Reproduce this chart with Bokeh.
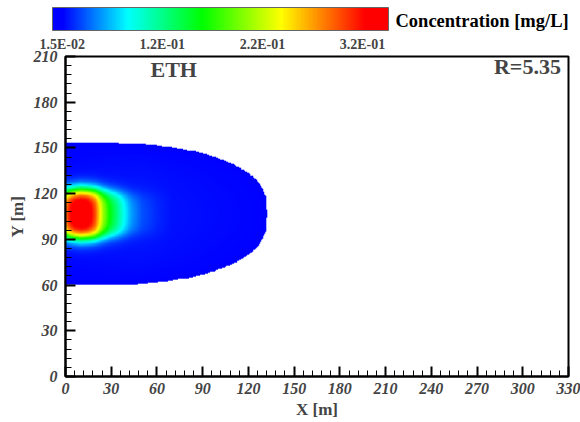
import numpy as np
from bokeh.plotting import figure
from bokeh.models import ColorBar, LinearColorMapper, FixedTicker, Label, SingleIntervalTicker
from bokeh.embed import file_html
from bokeh.resources import INLINE

# ---------------- colour scale ----------------
cbar_low = 0.0053
cbar_high = 0.341
cbar_ticks = [0.015, 0.115, 0.215, 0.315]
cbar_labels = ["1.5E-02", "1.2E-01", "2.2E-01", "3.2E-01"]
cbar_title = "Concentration [mg/L]"
c_cutoff = 0.015
# colour stops in concentration units
stop_c = [0.0053, 0.015, 0.080, 0.155, 0.234, 0.318, 0.341]
stop_r = [0, 0, 0, 0, 255, 255, 255]
stop_g = [0, 0, 255, 255, 255, 0, 0]
stop_b = [255, 255, 255, 0, 0, 0, 0]

# ---------------- plume ----------------
plume_yc = 106.7
# source core concentration along plume axis
core_x = [0, 3, 6, 10, 14, 17, 20, 22, 25, 29, 34, 38, 43, 50, 60, 70]
core_c = [0.26, 0.30, 0.32, 0.325, 0.32, 0.30, 0.27, 0.225, 0.18, 0.135, 0.095, 0.065, 0.035, 0.015, 0.005, 0.0]
# lateral half-width of the core along plume axis
core_hw_x = [0, 10, 20, 30, 45]
core_hw = [14.5, 15.5, 15.0, 14.0, 13.0]
core_edge = 2.5
# low-level halo concentration along plume axis
halo_x = [0, 30, 50, 70, 100, 120, 132]
halo_c = [0.017, 0.020, 0.021, 0.019, 0.017, 0.016, 0.015]
# outline of the 0.015 mg/L plume: half-width vs x
boundary_x = [0, 20, 40, 60, 80, 90, 100, 110, 117, 122, 126, 129, 131, 132]
boundary_hw = [46.7, 46.7, 46.5, 45, 42, 40, 36.5, 32.5, 28.5, 25, 21, 16, 11, 0]

# ---------------- palette ----------------
t = np.linspace(cbar_low, cbar_high, 256)
pal_r = np.interp(t, stop_c, stop_r).astype(np.uint8)
pal_g = np.interp(t, stop_c, stop_g).astype(np.uint8)
pal_b = np.interp(t, stop_c, stop_b).astype(np.uint8)
palette = ["#%02x%02x%02x" % (r, g, b) for r, g, b in zip(pal_r, pal_g, pal_b)]

# ---------------- field ----------------
step = 0.5
x0, x1, y0, y1 = 0.0, 135.0, 55.0, 160.0
xs = np.arange(x0 + step / 2, x1, step)
ys = np.arange(y0 + step / 2, y1, step)
X, Y = np.meshgrid(xs, ys)
d = np.abs(Y - plume_yc)
hw = np.interp(X, boundary_x, boundary_hw)
chw = np.interp(X, core_hw_x, core_hw)
core = np.interp(X, core_x, core_c) / (1.0 + np.exp((d - chw) / core_edge))
hc = np.interp(X, halo_x, halo_c)
ratio = np.where(hw > 0, d / np.maximum(hw, 1e-6), 10.0)
halo = hc * (c_cutoff / hc) ** (ratio ** 2)
conc = core + halo
inside = (d <= hw) & (X <= boundary_x[-1])

img = np.zeros(X.shape, dtype=np.uint32)
view = img.view(dtype=np.uint8).reshape(X.shape + (4,))
view[..., 0] = np.interp(conc, stop_c, stop_r).astype(np.uint8)
view[..., 1] = np.interp(conc, stop_c, stop_g).astype(np.uint8)
view[..., 2] = np.interp(conc, stop_c, stop_b).astype(np.uint8)
view[..., 3] = np.where(inside, 255, 0)

FONT = "Liberation Serif"

# ---------------- main plot ----------------
p = figure(width=580, height=422, x_range=(0, 330), y_range=(0, 210),
           output_backend="svg", toolbar_location=None,
           min_border_left=65, min_border_right=12, min_border_top=56, min_border_bottom=46)
p.grid.visible = False
p.outline_line_color = "black"
p.outline_line_width = 2

p.image_rgba(image=[img], x=x0, y=y0, dw=x1 - x0, dh=y1 - y0)

for ax, lab in ((p.xaxis[0], "X [m]"), (p.yaxis[0], "Y [m]")):
    ax.ticker = SingleIntervalTicker(interval=30, num_minor_ticks=5)
    ax.axis_label = lab
    ax.axis_label_text_font = FONT
    ax.axis_label_text_font_style = "bold"
    ax.axis_label_text_font_size = "17px"
    ax.major_label_text_font = FONT
    ax.major_label_text_font_style = "bold italic"
    ax.major_label_text_font_size = "16px"
    ax.major_tick_in = 10
    ax.major_tick_out = 0
    ax.minor_tick_in = 6
    ax.minor_tick_out = 0
    ax.major_tick_line_width = 2
    ax.minor_tick_line_width = 1
    ax.axis_line_width = 2
p.xaxis.major_label_standoff = 6
p.xaxis.axis_label_standoff = 3
p.yaxis.major_label_standoff = 8
p.yaxis.axis_label_standoff = 4

# colour bar above the frame
mapper = LinearColorMapper(palette=palette, low=cbar_low, high=cbar_high)
cb = ColorBar(color_mapper=mapper, orientation="horizontal", width=336, height=23,
              location=(-13, 322), padding=0, margin=0,
              ticker=FixedTicker(ticks=cbar_ticks),
              major_label_overrides={v: s for v, s in zip(cbar_ticks, cbar_labels)},
              major_label_text_font=FONT, major_label_text_font_style="bold",
              major_label_text_font_size="14px", label_standoff=6,
              major_tick_line_color=None, minor_tick_line_color=None,
              bar_line_color="#666666", bar_line_width=1,
              background_fill_alpha=0, border_line_color=None)
p.add_layout(cb, "center")

# colour bar title, to the right of the bar (carried by an invisible bar)
cb_title = ColorBar(color_mapper=mapper, orientation="horizontal", width=170, height=1,
                    location=(330, 344), padding=0, margin=0,
                    ticker=FixedTicker(ticks=[]), scale_alpha=0,
                    major_tick_line_color=None, minor_tick_line_color=None,
                    major_label_text_alpha=0, bar_line_color=None,
                    background_fill_alpha=0, border_line_color=None,
                    title=cbar_title, title_standoff=2, title_text_font=FONT,
                    title_text_font_style="bold", title_text_font_size="18.5px",
                    title_text_color="black")
p.add_layout(cb_title, "center")

p.add_layout(Label(x=71, y=201.5, text="ETH", text_font=FONT, text_font_style="bold",
                   text_font_size="22px", text_baseline="middle", text_align="center"))
p.add_layout(Label(x=325, y=203.5, text="R=5.35", text_font=FONT, text_font_style="bold",
                   text_font_size="22px", text_baseline="middle", text_align="right"))

open("out.html", "w").write(file_html(p, INLINE))
